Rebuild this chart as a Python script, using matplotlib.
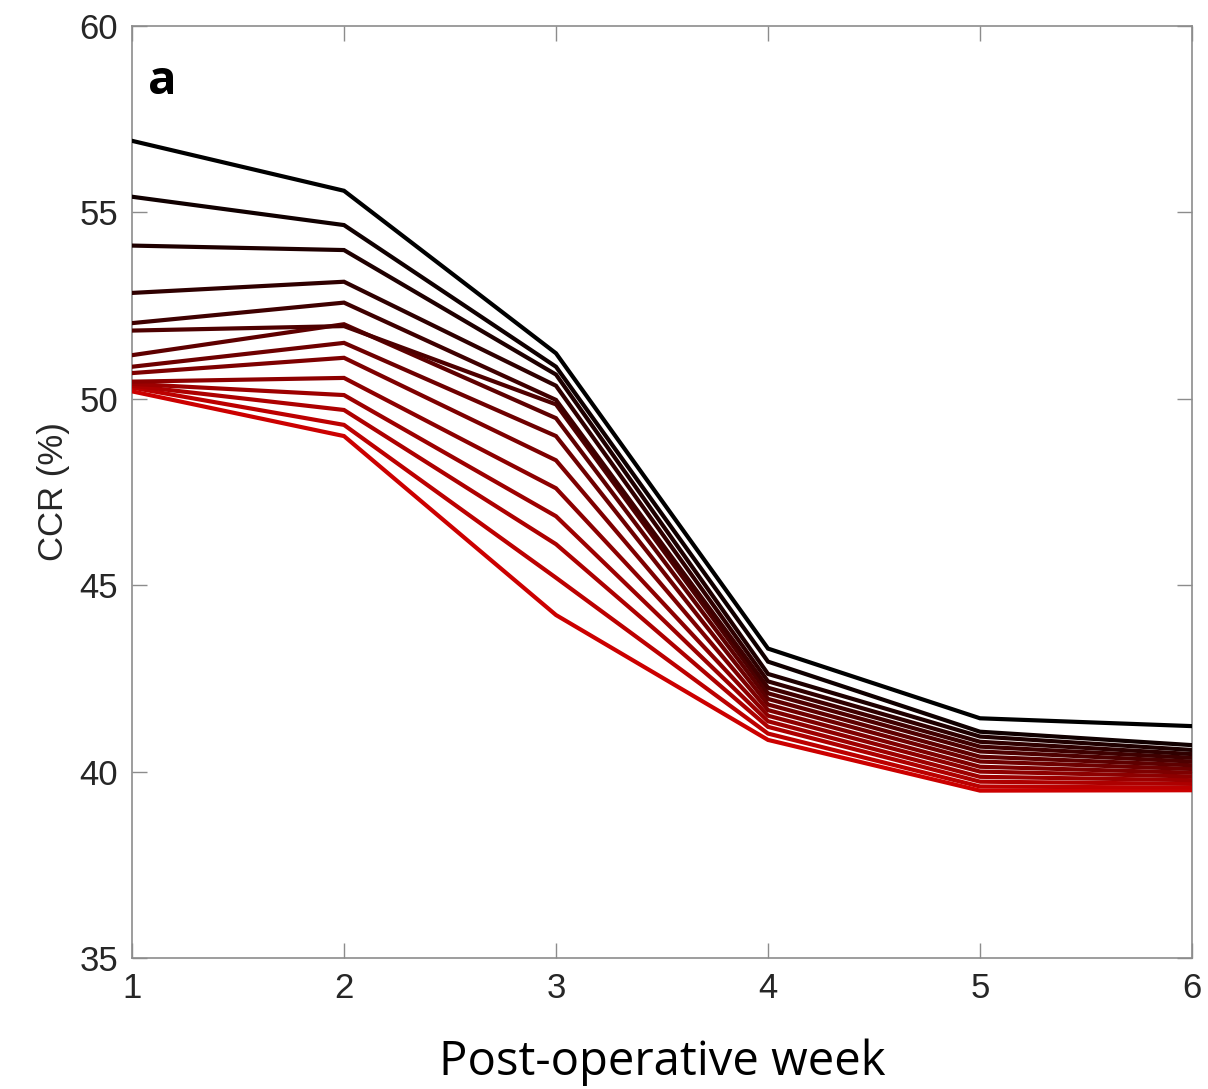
import matplotlib
matplotlib.use("Agg")
import matplotlib.pyplot as plt
import numpy as np

weeks = [1, 2, 3, 4, 5, 6]

# CCR (%) curves, ordered from darkest (top) to reddest (bottom)
ccr_curves = [
    [56.92, 55.58, 51.22, 43.30, 41.43, 41.22],
    [55.42, 54.66, 50.86, 42.95, 41.07, 40.71],
    [54.11, 53.99, 50.65, 42.62, 40.94, 40.58],
    [52.84, 53.14, 50.35, 42.42, 40.80, 40.47],
    [52.03, 52.58, 49.97, 42.25, 40.67, 40.37],
    [51.83, 51.95, 49.85, 42.10, 40.54, 40.27],
    [51.17, 52.00, 49.48, 41.95, 40.40, 40.17],
    [50.86, 51.50, 49.00, 41.80, 40.27, 40.07],
    [50.69, 51.10, 48.35, 41.65, 40.13, 39.97],
    [50.46, 50.56, 47.60, 41.50, 40.00, 39.87],
    [50.40, 50.10, 46.85, 41.35, 39.86, 39.77],
    [50.35, 49.70, 46.10, 41.20, 39.73, 39.67],
    [50.30, 49.30, 45.20, 41.02, 39.60, 39.57],
    [50.20, 49.00, 44.20, 40.85, 39.49, 39.50],
]

x_ticks = [1, 2, 3, 4, 5, 6]
y_ticks = [35, 40, 45, 50, 55, 60]

fig = plt.figure(figsize=(12.08, 10.89), dpi=100)
ax = fig.add_axes([132/1208, 1 - 958/1089, (1192-132)/1208, (958-26)/1089])

n = len(ccr_curves)
for i, ys in enumerate(ccr_curves):
    t = i / (n - 1)
    color = (0.80 * t, 0.0, 0.0)
    ax.plot(weeks, ys, color=color, lw=3.0, solid_joinstyle="miter", zorder=3 + (n - i))

ax.set_xlim(1, 6)
ax.set_ylim(35, 60)
ax.set_xticks(x_ticks)
ax.set_yticks(y_ticks)

spine_color = "#8c8c8c"
for s in ax.spines.values():
    s.set_color(spine_color)
    s.set_linewidth(1.2)

ax.tick_params(direction="in", length=11, width=1.0, color=spine_color,
               top=True, right=True, labelsize=25, labelcolor="#262626", pad=10)
for lab in ax.get_xticklabels() + ax.get_yticklabels():
    lab.set_fontfamily("Liberation Sans")

ax.set_ylabel("CCR (%)", fontsize=25, color="#262626", family="Liberation Sans", labelpad=7)
ax.set_xlabel("Post-operative week", fontsize=34, color="black", family="Open Sans", labelpad=24)

ax.text(0.015, 0.94, "a", transform=ax.transAxes, fontsize=34, fontweight="bold",
        family="Open Sans", va="center", ha="left", color="black")

fig.savefig("out.png", dpi=100, facecolor="white")
